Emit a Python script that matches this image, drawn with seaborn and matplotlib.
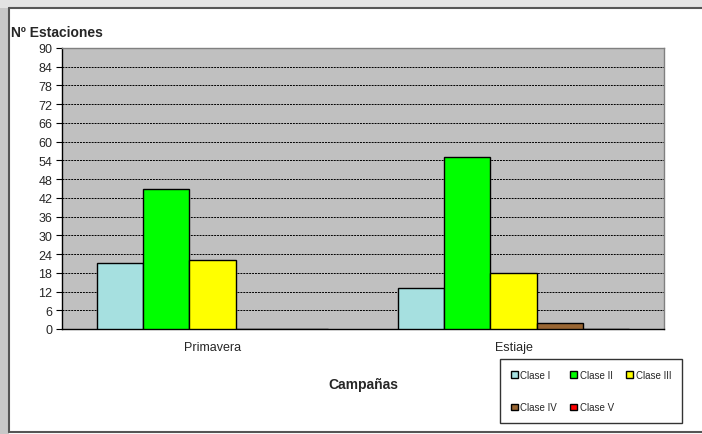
import pandas as pd
import matplotlib
matplotlib.use('Agg')
from matplotlib import pyplot as plt
from matplotlib.patches import Rectangle
import seaborn as sns

campanas = ['Primavera', 'Estiaje']
clases = ['Clase I', 'Clase II', 'Clase III', 'Clase IV', 'Clase V']
primavera = [21, 45, 22, 0, 0]
estiaje = [13, 55, 18, 2, 0]
colores = ['#a6e0e0', '#00ff00', '#ffff00', '#996633', '#ff0000']
y_ticks = list(range(0, 91, 6))

df = pd.DataFrame({
    'campana': [campanas[0]] * len(clases) + [campanas[1]] * len(clases),
    'clase': clases * 2,
    'n': primavera + estiaje,
})

sns.set_style('white')
plt.rcParams['font.family'] = ['Liberation Sans', 'DejaVu Sans']

fig = plt.figure(figsize=(7.02, 4.35), dpi=100)
fig.patch.set_facecolor('white')

# marco gris de la ventana (captura)
fig.patches.append(Rectangle((0, 0), 9 / 702, 1, transform=fig.transFigure,
                             facecolor='#c8c8c8', edgecolor='none', zorder=0))
fig.patches.append(Rectangle((0, 1 - 9 / 435), 1, 9 / 435, transform=fig.transFigure,
                             facecolor='#e3e3e3', edgecolor='none', zorder=0))
fig.add_artist(plt.Line2D([9 / 702, 9 / 702], [2 / 435, 1 - 9 / 435], transform=fig.transFigure,
                          color='#555555', lw=1.5))
fig.add_artist(plt.Line2D([9 / 702, 1], [1 - 9 / 435, 1 - 9 / 435], transform=fig.transFigure,
                          color='#555555', lw=1.5))
fig.add_artist(plt.Line2D([9 / 702, 1], [2 / 435, 2 / 435], transform=fig.transFigure,
                          color='#555555', lw=1.5))

ax = fig.add_axes([62 / 702, 105 / 435, 602 / 702, 281 / 435])
sns.barplot(data=df, x='campana', y='n', hue='clase', order=campanas, hue_order=clases,
            palette=colores, saturation=1, width=0.77, edgecolor='black', linewidth=1,
            ax=ax, zorder=3)

ax.set_facecolor('#c0c0c0')
ax.set_xlim(-0.5, 1.5)
ax.set_ylim(0, 90)
ax.set_yticks(y_ticks)
ax.set_yticklabels([str(v) for v in y_ticks], fontsize=9)
ax.yaxis.grid(True, color='black', linestyle=(0, (2, 1)), linewidth=0.7, zorder=1)
ax.set_axisbelow(True)

ax.set_xticks([0, 1])
ax.set_xticklabels(campanas, fontsize=9)
ax.set_xticks([-0.5, 0.5, 1.5], minor=True)
ax.tick_params(axis='x', which='major', length=0, pad=9)
ax.tick_params(axis='x', which='minor', length=4, width=0.8, direction='out', color='black')
ax.tick_params(axis='y', length=4, width=0.8, direction='out', color='black', left=True, pad=3)

for side in ['left', 'bottom']:
    ax.spines[side].set_color('black')
    ax.spines[side].set_linewidth(1)
for side in ['top', 'right']:
    ax.spines[side].set_color('#808080')
    ax.spines[side].set_linewidth(1)

ax.set_ylabel('')
ax.set_xlabel('Campañas', fontsize=10, fontweight='bold', labelpad=17)
fig.text(11 / 702, 1 - 33 / 435, 'Nº Estaciones', fontsize=10, fontweight='bold', va='center')

# leyenda por filas: I, II, III / IV, V
handles, labels = ax.get_legend_handles_labels()
orden = [0, 3, 1, 4, 2]
leg = ax.legend([handles[i] for i in orden], [labels[i] for i in orden], ncol=3,
                loc='lower left', bbox_to_anchor=(500 / 702, 11 / 435),
                bbox_transform=fig.transFigure, borderaxespad=0, fontsize=7,
                frameon=True, fancybox=False, edgecolor='black',
                handlelength=0.7, handleheight=0.7, handletextpad=0.3,
                columnspacing=1.3, labelspacing=2.3, borderpad=1.1)
leg.get_frame().set_linewidth(1)

plt.savefig('out.png', dpi=100)
